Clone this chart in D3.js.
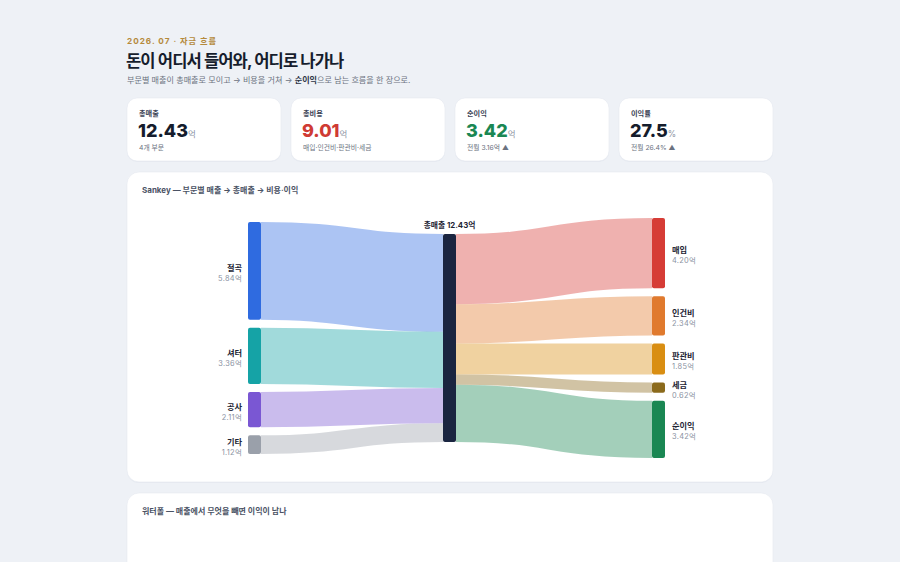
<!DOCTYPE html>
<html lang="ko">
<head>
<meta charset="utf-8">
<script src="https://cdn.jsdelivr.net/npm/d3@7"></script>
<style>
  html,body{margin:0;padding:0;background:#eef1f6;}
  svg{display:block;font-family:"Inter","Noto Sans CJK KR",sans-serif;}
</style>
</head>
<body>
<svg id="chart" width="900" height="562"></svg>
<script>
// ---------- data ----------
const sources = ["절곡", "셔터", "공사", "기타"];
const sourceValues = [5.84, 3.36, 2.11, 1.12];
const sourceColors = ["#2f6be0", "#15a3a6", "#7a57d3", "#9aa0aa"];
const hubName = "총매출";
const hubColor = "#1a2540";
const outflows = ["매입", "인건비", "판관비", "세금", "순이익"];
const outflowValues = [4.20, 2.34, 1.85, 0.62, 3.42];
const outflowColors = ["#d63c36", "#e07a2e", "#d98e12", "#8b6a1c", "#1a8753"];

const kpiLabels = ["총매출", "총비용", "순이익", "이익률"];
const kpiValues = ["12.43", "9.01", "3.42", "27.5"];
const kpiUnits = ["억", "억", "억", "%"];
const kpiNotes = ["4개 부문", "매입·인건비·판관비·세금", "전월 3.16억 ▲", "전월 26.4% ▲"];
const kpiColors = ["#151c2c", "#cf3b34", "#1a8753", "#151c2c"];

const svg = d3.select("#chart");

// ---------- card helper ----------
function card(x, y, w, h, r) {
  svg.append("rect").attr("x", x).attr("y", y + 1).attr("width", w).attr("height", h)
    .attr("rx", r).attr("fill", "#dfe4ec").attr("opacity", 0.6);
  svg.append("rect").attr("x", x).attr("y", y).attr("width", w).attr("height", h)
    .attr("rx", r).attr("fill", "#ffffff").attr("stroke", "#e6eaf0").attr("stroke-width", 0.6);
}

// ---------- header ----------
svg.append("text").attr("x", 127).attr("y", 44)
  .attr("font-size", 8.2).attr("font-weight", 700).attr("letter-spacing", 1.0)
  .attr("fill", "#b58a3c").text("2026. 07 · 자금 흐름");
svg.append("text").attr("x", 126).attr("y", 67)
  .attr("font-size", 16.6).attr("font-weight", 700).attr("letter-spacing", -0.9)
  .attr("fill", "#161d2d").text("돈이 어디서 들어와, 어디로 나가나");
const sub = svg.append("text").attr("x", 127).attr("y", 83)
  .attr("font-size", 8.1).attr("fill", "#6b7280");
sub.append("tspan").text("부문별 매출이 총매출로 모이고 → 비용을 거쳐 → ");
sub.append("tspan").attr("font-weight", 700).attr("fill", "#2b3344").text("순이익");
sub.append("tspan").text("으로 남는 흐름을 한 장으로.");

// ---------- KPI cards ----------
const kx = d3.scaleBand().domain(d3.range(kpiLabels.length)).range([127, 783]).paddingInner(0).paddingOuter(0);
kpiLabels.forEach((lab, i) => {
  const x = kx(i), w = kx.bandwidth() - 10;
  card(x, 98, w, 63, 10);
  svg.append("text").attr("x", x + 12).attr("y", 116).attr("font-size", 7.2)
    .attr("font-weight", 600).attr("fill", "#3b4355").text(lab);
  const t = svg.append("text").attr("x", x + 11).attr("y", 137);
  t.append("tspan").attr("font-size", 18).attr("font-weight", 800)
    .attr("fill", kpiColors[i]).text(kpiValues[i]);
  t.append("tspan").attr("font-size", 8.5).attr("fill", "#8a92a2").text(kpiUnits[i]);
  svg.append("text").attr("x", x + 12).attr("y", 150).attr("font-size", 6.8)
    .attr("fill", "#6b7280").text(kpiNotes[i]);
});

// ---------- Sankey card ----------
card(127, 172, 646, 310, 12);
svg.append("text").attr("x", 142).attr("y", 193).attr("font-size", 8)
  .attr("font-weight", 700).attr("fill", "#4a5264")
  .text("Sankey — 부문별 매출 → 총매출 → 비용·이익");

// waterfall card (cut off)
card(127, 493, 646, 120, 12);
svg.append("text").attr("x", 142).attr("y", 514).attr("font-size", 8)
  .attr("font-weight", 700).attr("fill", "#4a5264")
  .text("워터폴 — 매출에서 무엇을 빼면 이익이 남나");

// ---------- Sankey layout ----------
const total = d3.sum(sourceValues);
const nodeW = 13, pad = 8;
const yTop = 218, yBot = 458;
const colMid = [248, 443, 652];

const columns = [
  sources.map((n, i) => ({ name: n, value: sourceValues[i], color: sourceColors[i], col: 0 })),
  [{ name: hubName, value: total, color: hubColor, col: 1 }],
  outflows.map((n, i) => ({ name: n, value: outflowValues[i], color: outflowColors[i], col: 2 }))
];
const pxPerUnit = d3.min(columns, c => (yBot - yTop - (c.length - 1) * pad) / d3.sum(c, d => d.value));
const h = d3.scaleLinear().domain([0, 1]).range([0, pxPerUnit]);
const center = (yTop + yBot) / 2;

columns.forEach((col, ci) => {
  const colH = d3.sum(col, d => h(d.value)) + (col.length - 1) * pad;
  let y = center - colH / 2;
  col.forEach(n => {
    n.x0 = colMid[ci]; n.x1 = n.x0 + nodeW;
    n.y0 = y; n.y1 = y + h(n.value);
    y = n.y1 + pad;
  });
});
const hub = columns[1][0];

// links
const links = [];
let yy = hub.y0;
columns[0].forEach(n => {
  const w = h(n.value);
  links.push({ sx: n.x1, sy: n.y0 + w / 2, tx: hub.x0, ty: yy + w / 2, w, color: n.color });
  yy += w;
});
yy = hub.y0;
columns[2].forEach(n => {
  const w = h(n.value);
  links.push({ sx: hub.x1, sy: yy + w / 2, tx: n.x0, ty: n.y0 + w / 2, w, color: n.color });
  yy += w;
});
const linkGen = d3.linkHorizontal().source(d => [d.sx, d.sy]).target(d => [d.tx, d.ty]);
svg.append("g").selectAll("path").data(links).join("path")
  .attr("d", linkGen).attr("fill", "none")
  .attr("stroke", d => d.color).attr("stroke-opacity", 0.4)
  .attr("stroke-width", d => d.w);

// nodes
const allNodes = columns.flat();
svg.append("g").selectAll("rect").data(allNodes).join("rect")
  .attr("x", d => d.x0).attr("y", d => d.y0)
  .attr("width", nodeW).attr("height", d => d.y1 - d.y0)
  .attr("rx", 2).attr("fill", d => d.color);

// labels
const fmt = d3.format(".2f");
columns[0].concat(columns[2]).forEach(n => {
  const left = n.col === 0;
  const x = left ? n.x0 - 6 : n.x1 + 7;
  const cy = (n.y0 + n.y1) / 2;
  const anchor = left ? "end" : "start";
  svg.append("text").attr("x", x).attr("y", cy).attr("text-anchor", anchor)
    .attr("font-size", 8.2).attr("font-weight", 700).attr("fill", "#1c2333").text(n.name);
  svg.append("text").attr("x", x).attr("y", cy + 10).attr("text-anchor", anchor)
    .attr("font-size", 7.4).attr("fill", "#8a92a2").attr("letter-spacing", 0.3).text(fmt(n.value) + "억");
});
svg.append("text").attr("x", (hub.x0 + hub.x1) / 2).attr("y", hub.y0 - 6)
  .attr("text-anchor", "middle").attr("font-size", 7.8).attr("font-weight", 700)
  .attr("fill", "#1c2333").text(hubName + " " + fmt(hub.value) + "억");
</script>
</body>
</html>
